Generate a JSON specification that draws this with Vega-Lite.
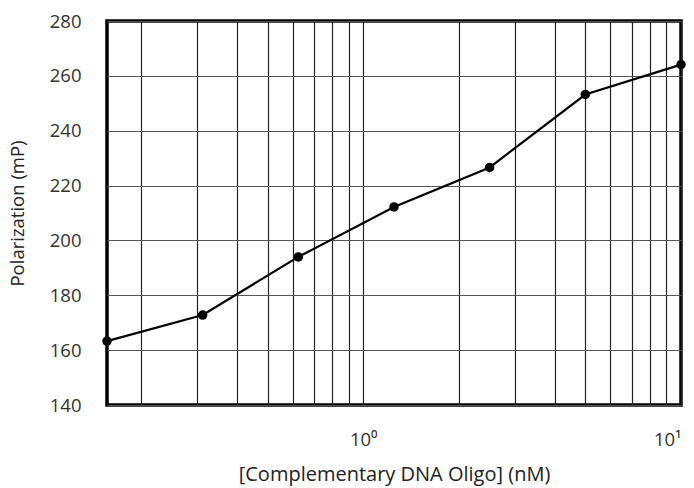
{
  "$schema": "https://vega.github.io/schema/vega-lite/v6.json",
  "autosize": "none",
  "padding": {"left": 107, "top": 21, "right": 13, "bottom": 83},
  "width": 574,
  "height": 384,
  "background": "white",
  "config": {
    "font": "Open Sans",
    "view": {"stroke": "black", "strokeWidth": 3.5},
    "axis": {
      "labelFont": "Open Sans",
      "titleFont": "Open Sans",
      "labelColor": "#333333",
      "titleColor": "#222222",
      "labelFontSize": 18.5,
      "titleFontSize": 20,
      "titleFontWeight": "normal",
      "domain": false,
      "ticks": false,
      "grid": true,
      "gridColor": "#222222",
      "gridOpacity": 1,
      "gridWidth": 1.2
    }
  },
  "data": {
    "values": [
      {"conc": 0.15625, "pol": 163.3},
      {"conc": 0.3125, "pol": 172.8},
      {"conc": 0.625, "pol": 194.0},
      {"conc": 1.25, "pol": 212.2},
      {"conc": 2.5, "pol": 226.6},
      {"conc": 5, "pol": 253.2},
      {"conc": 10, "pol": 264.1}
    ]
  },
  "encoding": {
    "x": {
      "field": "conc",
      "type": "quantitative",
      "scale": {"type": "log", "domain": [0.15625, 10], "nice": false},
      "axis": {
        "title": "[Complementary DNA Oligo] (nM)",
        "values": [0.2, 0.3, 0.4, 0.5, 0.6, 0.7, 0.8, 0.9, 1, 2, 3, 4, 5, 6, 7, 8, 9, 10],
        "labelExpr": "datum.value == 1 ? '10⁰' : (datum.value == 10 ? '10¹' : '')",
        "labelPadding": 25,
        "titlePadding": 16
      }
    },
    "y": {
      "field": "pol",
      "type": "quantitative",
      "scale": {"domain": [140, 280], "nice": false, "zero": false},
      "axis": {
        "title": "Polarization (mP)",
        "titleFontSize": 18.5,
        "values": [140, 160, 180, 200, 220, 240, 260, 280],
        "labelPadding": 26,
        "titlePadding": 22,
        "gridColor": "#555555"
      }
    }
  },
  "layer": [
    {"mark": {"type": "line", "color": "black", "strokeWidth": 2.2}},
    {"mark": {"type": "point", "filled": true, "color": "black", "opacity": 1, "size": 90}}
  ]
}
